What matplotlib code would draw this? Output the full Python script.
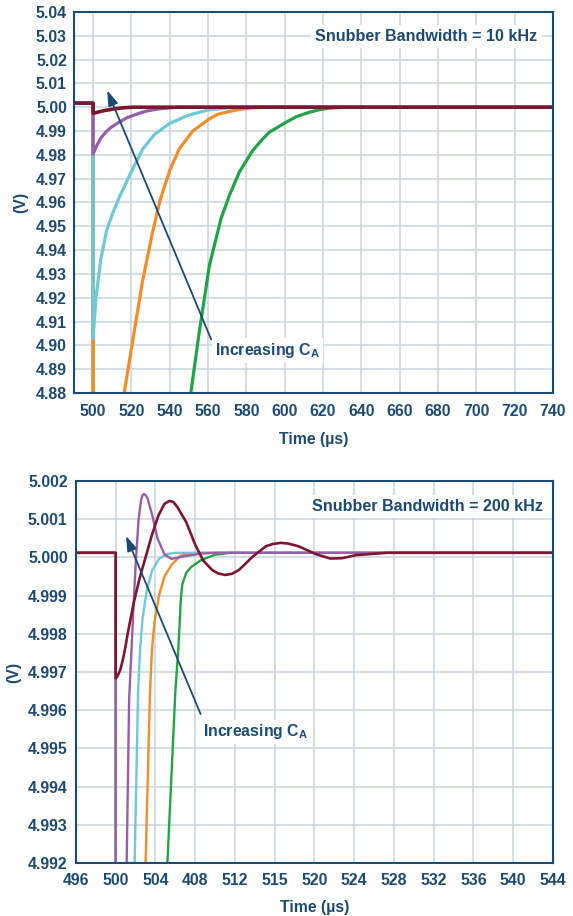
import matplotlib
matplotlib.use("Agg")
import matplotlib.pyplot as plt

# cores do estilo do grafico
NAVY = "#1d4a72"
GRID = "#c9d3de"
MAROON = "#7d1731"
PURPLE = "#9660a8"
CYAN = "#6ec8d6"
ORANGE = "#f28c2c"
GREEN = "#23a348"

# ---- snubber 10 kHz ----
t10_maroon = [490, 500, 500, 500.5, 502, 504, 506, 508.4, 511, 514, 517, 521, 740]
v10_maroon = [5.0017, 5.0017, 4.9975, 4.9975, 4.9978, 4.9982, 4.9986, 4.9989, 4.9993,
              4.9996, 4.9998, 5.0, 5.0]

t10_purple = [490, 500, 500, 501, 502, 504, 506.6, 509, 513.6, 518, 524, 528, 534.5, 545, 740]
v10_purple = [5.0017, 5.0017, 4.9803, 4.9822, 4.9840, 4.9870, 4.9895, 4.9913, 4.9937,
              4.9957, 4.9974, 4.9984, 4.9993, 5.0, 5.0]

t10_cyan = [490, 500, 500, 501.5, 504, 507, 510, 513.6, 520, 526, 532, 540, 550, 560,
            570, 580, 740]
v10_cyan = [5.0017, 5.0017, 4.903, 4.920, 4.936, 4.948, 4.955, 4.962, 4.973, 4.9825,
            4.9885, 4.9932, 4.9967, 4.9988, 4.9997, 5.0, 5.0]

t10_orange = [490, 500, 500, 510, 516.2, 520.5, 525.7, 530.9, 535, 540, 545, 552, 560.7,
              565, 571, 577, 583, 595, 740]
v10_orange = [5.0017, 5.0017, 4.75, 4.85, 4.88, 4.901, 4.9265, 4.947, 4.961, 4.9735,
              4.9825, 4.990, 4.9951, 4.9970, 4.9982, 4.9991, 4.9997, 5.0, 5.0]

t10_green = [490, 500, 500, 540, 551, 555.4, 560.7, 566.7, 571.1, 576.3, 583.3, 588,
             592, 600.8, 606, 612.9, 618, 623.4, 630, 740]
v10_green = [5.0017, 5.0017, 4.60, 4.81, 4.88, 4.9055, 4.9335, 4.953, 4.9629, 4.9727,
             4.9818, 4.9862, 4.9895, 4.9937, 4.9960, 4.9979, 4.9989, 4.9996, 4.9999,
             5.0]

# ---- snubber 200 kHz ----
t200_maroon = [496, 500, 500, 500.2, 500.45, 500.7, 500.95, 501.2, 501.8, 502.4, 503.0,
               503.6, 504.3, 504.9, 505.4, 505.8, 506.2, 507.1, 508.0, 508.8, 509.7,
               510.3, 511.0, 511.7, 512.4, 513.7, 515.1, 515.8, 516.6, 517.4, 518.4,
               520.2, 521.6, 522.8, 524.2, 527.3, 544]
v200_maroon = [5.00012, 5.00012, 4.99683, 4.99690, 4.99705, 4.99730, 4.99762, 4.99800,
               4.99880, 4.99945, 5.00000, 5.00055, 5.00110, 5.00140, 5.00148, 5.00145,
               5.00132, 5.00092, 5.00033, 4.99992, 4.99967, 4.99958, 4.99954, 4.99957,
               4.99967, 5.00000, 5.00029, 5.00035, 5.00038, 5.00036, 5.00029, 5.00008,
               4.99997, 4.99998, 5.00006, 5.00012, 5.00012]

t200_purple = [496, 500, 500, 500.6, 501.1, 501.35, 501.7, 502.0, 502.3, 502.55, 502.7,
               502.85, 503.0, 503.2, 503.7, 504.2, 504.9, 505.6, 506.9, 508.6, 510, 544]
v200_purple = [5.00012, 5.00012, 4.985, 4.986, 4.992, 4.9963, 4.9982, 4.9998, 5.0010,
               5.0015, 5.00163, 5.00166, 5.00163, 5.00155, 5.00108, 5.0005, 5.00008,
               4.99996, 5.00003, 5.0001, 5.00012, 5.00012]

t200_cyan = [496, 500, 500, 501.5, 501.9, 502.25, 502.45, 502.7, 503.1, 503.65, 504.35,
             505.2, 506, 544]
v200_cyan = [5.00012, 5.00012, 4.985, 4.986, 4.992, 4.9965, 4.9976, 4.9984, 4.9991,
             4.99965, 4.99996, 5.00009, 5.00012, 5.00012]

t200_orange = [496, 500, 500, 502.5, 503.0, 503.45, 503.65, 503.9, 504.35, 504.9, 505.6,
               506.5, 507.5, 508.5, 544]
v200_orange = [5.00012, 5.00012, 4.985, 4.986, 4.992, 4.9965, 4.9976, 4.9983, 4.9990,
               4.9995, 4.9998, 5.00004, 5.0001, 5.00012, 5.00012]

t200_green = [496, 500, 500, 504.6, 505.2, 506.0, 506.3, 506.55, 506.7, 507.1, 507.6,
              508.6, 510, 511.5, 544]
v200_green = [5.00012, 5.00012, 4.985, 4.987, 4.992, 4.9965, 4.9976, 4.9989, 4.9993,
              4.9996, 4.99975, 4.99993, 5.00007, 5.00012, 5.00012]

# eixos
xticks_10 = [500, 520, 540, 560, 580, 600, 620, 640, 660, 680, 700, 720, 740]
yticks_10 = [4.88, 4.89, 4.90, 4.91, 4.92, 4.93, 4.94, 4.95, 4.96, 4.97, 4.98, 4.99,
             5.00, 5.01, 5.02, 5.03, 5.04]

xticks_200 = [496, 500, 504, 508, 512, 516, 520, 524, 528, 532, 536, 540, 544]
xlabels_200 = ["496", "500", "504", "408", "512", "515", "520", "524", "528", "532",
               "536", "540", "544"]
yticks_200 = [4.992, 4.993, 4.994, 4.995, 4.996, 4.997, 4.998, 4.999, 5.000, 5.001, 5.002]

plt.rcParams["font.family"] = ["Liberation Sans", "DejaVu Sans"]
plt.rcParams["font.weight"] = "bold"

FS = 11.4


def estilo_eixo(ax):
    for spine in ax.spines.values():
        spine.set_color(NAVY)
        spine.set_linewidth(1.5)
    ax.grid(True, color=GRID, linewidth=1.1)
    ax.set_axisbelow(True)
    ax.tick_params(length=0, labelsize=FS, labelcolor=NAVY)
    for lab in ax.get_xticklabels() + ax.get_yticklabels():
        lab.set_fontweight("bold")
    ax.set_xlabel("Time (µs)", fontsize=FS, fontweight="bold", color=NAVY, labelpad=9)
    ax.set_ylabel("(V)", fontsize=FS, fontweight="bold", color=NAVY)


fig = plt.figure(figsize=(5.73, 9.16), dpi=100)

# grafico superior
ax1 = fig.add_axes([0.129, 0.571, 0.836, 0.416])
lw = 2.3
ax1.plot(t10_green, v10_green, color=GREEN, lw=lw)
ax1.plot(t10_orange, v10_orange, color=ORANGE, lw=lw)
ax1.plot(t10_cyan, v10_cyan, color=CYAN, lw=lw)
ax1.plot(t10_purple, v10_purple, color=PURPLE, lw=lw)
ax1.plot(t10_maroon, v10_maroon, color=MAROON, lw=2.6)
ax1.set_xlim(490, 740)
ax1.set_ylim(4.88, 5.04)
ax1.set_xticks(xticks_10)
ax1.set_yticks(yticks_10)
ax1.set_yticklabels([f"{v:.2f}" for v in yticks_10])
ax1.tick_params(axis="x", pad=8)
ax1.tick_params(axis="y", pad=5)
estilo_eixo(ax1)
ax1.yaxis.set_label_coords(-0.095, 0.5)

ax1.annotate("", xy=(506.8, 5.0081), xytext=(562.2, 4.9014),
             arrowprops=dict(arrowstyle="-|>,head_length=0.9,head_width=0.3",
                             color=NAVY, lw=1.3))
ax1.text(563.8, 4.8977, "Increasing C$_\\mathregular{A}$", fontsize=FS,
         fontweight="bold", color=NAVY, ha="left", va="center",
         bbox=dict(facecolor="white", edgecolor="none", pad=2))
ax1.text(732, 5.0298, "Snubber Bandwidth = 10 kHz", fontsize=11.6,
         fontweight="bold", color=NAVY, ha="right", va="center",
         bbox=dict(facecolor="white", edgecolor="none", pad=3))

# grafico inferior
ax2 = fig.add_axes([0.1326, 0.0579, 0.8324, 0.417])
lw = 1.7
ax2.plot(t200_green, v200_green, color=GREEN, lw=lw)
ax2.plot(t200_orange, v200_orange, color=ORANGE, lw=lw)
ax2.plot(t200_cyan, v200_cyan, color=CYAN, lw=lw)
ax2.plot(t200_purple, v200_purple, color=PURPLE, lw=lw)
ax2.plot(t200_maroon, v200_maroon, color=MAROON, lw=1.9)
ax2.set_xlim(496, 544)
ax2.set_ylim(4.992, 5.002)
ax2.set_xticks(xticks_200)
ax2.set_xticklabels(xlabels_200)
ax2.set_yticks(yticks_200)
ax2.set_yticklabels([f"{v:.3f}" for v in yticks_200])
ax2.tick_params(axis="x", pad=7)
ax2.tick_params(axis="y", pad=6)
estilo_eixo(ax2)
ax2.xaxis.labelpad = 9
ax2.yaxis.set_label_coords(-0.115, 0.5)

ax2.annotate("", xy=(500.93, 5.00063), xytext=(508.65, 4.99583),
             arrowprops=dict(arrowstyle="-|>,head_length=0.9,head_width=0.3",
                             color=NAVY, lw=1.3))
ax2.text(508.8, 4.99543, "Increasing C$_\\mathregular{A}$", fontsize=FS,
         fontweight="bold", color=NAVY, ha="left", va="center",
         bbox=dict(facecolor="white", edgecolor="none", pad=2))
ax2.text(543.0, 5.00133, "Snubber Bandwidth = 200 kHz", fontsize=11.6,
         fontweight="bold", color=NAVY, ha="right", va="center",
         bbox=dict(facecolor="white", edgecolor="none", pad=3))

fig.savefig("out.png", dpi=100)
plt.close(fig)
